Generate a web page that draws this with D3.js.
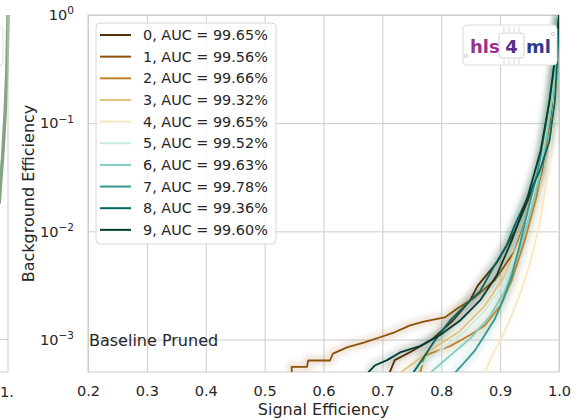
<!DOCTYPE html>
<html>
<head>
<meta charset="utf-8">
<script src="https://cdn.jsdelivr.net/npm/d3@7"></script>
<style>
  body { margin: 0; background: #fff; }
  text { font-family: "DejaVu Sans", sans-serif; fill: #262626; }
</style>
</head>
<body>
<div id="chart"></div>
<script>
// model labels and AUC values shown in the legend
const models = ["0", "1", "2", "3", "4", "5", "6", "7", "8", "9"];
const aucs = [99.65, 99.56, 99.66, 99.32, 99.65, 99.52, 99.63, 99.78, 99.36, 99.60];

// ROC points: [signal efficiency, background efficiency]
const roc0 = [[0.712, 4.9e-4], [0.721, 6.45e-4], [0.75, 7.8e-4], [0.784, 1.0e-3], [0.82, 1.5e-3], [0.849, 2.3e-3], [0.862, 3.15e-3], [0.895, 5.2e-3], [0.925, 0.01], [0.964, 0.032], [0.984, 0.1], [0.995, 0.32], [1, 1]];
const roc1 = [[0.546, 4.9e-4], [0.546, 5.6e-4], [0.572, 5.6e-4], [0.574, 6.4e-4], [0.611, 6.4e-4], [0.616, 7.4e-4], [0.641, 8.5e-4], [0.67, 9.4e-4], [0.696, 1.05e-3], [0.718, 1.15e-3], [0.747, 1.35e-3], [0.772, 1.47e-3], [0.806, 1.6e-3], [0.828, 1.95e-3], [0.857, 2.45e-3], [0.891, 3.55e-3], [0.925, 6.6e-3], [0.95, 0.016], [0.971, 0.036], [0.984, 0.107], [0.995, 0.38], [1, 1]];
const roc2 = [[0.764, 4.9e-4], [0.772, 7.1e-4], [0.815, 8.7e-4], [0.849, 1.1e-3], [0.874, 1.35e-3], [0.9, 2.05e-3], [0.92, 3.55e-3], [0.942, 8.3e-3], [0.962, 0.021], [0.979, 0.069], [0.993, 0.25], [1, 1]];
const roc3 = [[0.73, 4.9e-4], [0.781, 7.9e-4], [0.832, 1.2e-3], [0.874, 2.05e-3], [0.908, 3.9e-3], [0.933, 8.3e-3], [0.955, 0.0195], [0.974, 0.056], [0.988, 0.162], [0.996, 0.48], [1, 1]];
const roc4 = [[0.874, 4.9e-4], [0.886, 7.1e-4], [0.9, 9.8e-4], [0.916, 1.5e-3], [0.933, 2.55e-3], [0.95, 4.9e-3], [0.967, 0.0115], [0.981, 0.036], [0.991, 0.132], [0.998, 0.48], [1, 1]];
const roc5 = [[0.747, 4.9e-4], [0.798, 7.9e-4], [0.84, 1.2e-3], [0.874, 1.85e-3], [0.903, 3.15e-3], [0.928, 6.6e-3], [0.95, 0.0155], [0.971, 0.046], [0.986, 0.148], [0.995, 0.43], [1, 1]];
const roc6 = [[0.781, 4.9e-4], [0.815, 7.1e-4], [0.849, 1.02e-3], [0.883, 1.65e-3], [0.908, 2.8e-3], [0.93, 6.0e-3], [0.95, 0.014], [0.969, 0.036], [0.984, 0.117], [0.995, 0.38], [1, 1]];
const roc7 = [[0.823, 4.9e-4], [0.84, 6.2e-4], [0.857, 7.9e-4], [0.874, 1.1e-3], [0.891, 1.55e-3], [0.905, 2.3e-3], [0.92, 3.9e-3], [0.933, 7.4e-3], [0.947, 0.0155], [0.964, 0.036], [0.979, 0.107], [0.991, 0.31], [1, 1]];
const roc8 = [[0.752, 4.9e-4], [0.772, 7.1e-4], [0.789, 9.8e-4], [0.815, 1.5e-3], [0.849, 2.3e-3], [0.866, 2.8e-3], [0.891, 4.9e-3], [0.911, 7.4e-3], [0.925, 0.0115], [0.945, 0.0195], [0.967, 0.036], [0.984, 0.069], [0.993, 0.162], [0.998, 0.48], [1, 1]];
const roc9 = [[0.675, 4.9e-4], [0.687, 5.75e-4], [0.708, 6.45e-4], [0.73, 7.6e-4], [0.764, 8.7e-4], [0.798, 1.1e-3], [0.832, 1.5e-3], [0.866, 2.3e-3], [0.894, 3.9e-3], [0.92, 8.3e-3], [0.947, 0.021], [0.969, 0.056], [0.984, 0.162], [0.995, 0.48], [1, 1]];
const rocs = [roc0, roc1, roc2, roc3, roc4, roc5, roc6, roc7, roc8, roc9];

// the piece of the neighbouring panel visible on the left edge
const leftPanelCurve = [[1, 1], [0.998, 0.3], [0.995, 0.12], [0.991, 0.05], [0.987, 0.026], [0.985, 0.018]];

const xTicks = [0.2, 0.3, 0.4, 0.5, 0.6, 0.7, 0.8, 0.9, 1.0];
const yTicks = [1e-3, 1e-2, 1e-1, 1];
const yTickExp = ["\u22123", "\u22122", "\u22121", "0"];

const colors = d3.schemeBrBG[10];

const W = 579, H = 420;
const margin = { top: 15, right: 20, bottom: 48, left: 88 },
  width = W - margin.left - margin.right,
  height = H - margin.top - margin.bottom;

const svg = d3.select("#chart")
  .append("svg")
  .attr("width", W)
  .attr("height", H);

// soft blur for the faint bands under each curve
svg.append("defs").append("filter")
  .attr("id", "soft")
  .attr("x", "-20%").attr("y", "-20%").attr("width", "140%").attr("height", "140%")
  .append("feGaussianBlur").attr("stdDeviation", 2.5);

// scales
const x = d3.scaleLinear().domain([0.2, 1.0]).range([0, width]);
const y = d3.scaleLog().domain([Math.pow(10, -3.3), 1]).range([height, 0]);
// left neighbour panel: same scale, its 1.0 lands at x = 8
const xLeft = d3.scaleLinear().domain([0.2, 1.0]).range([8 - width, 8]);

// ---- left neighbour panel (clipped sliver) ----
const left = svg.append("g");
left.append("line")
  .attr("x1", 0).attr("x2", 8)
  .attr("y1", margin.top + y(1e-3)).attr("y2", margin.top + y(1e-3))
  .style("stroke", "#cccccc");
left.append("path")
  .datum(leftPanelCurve)
  .attr("transform", `translate(0, ${margin.top})`)
  .attr("d", d3.line().x(d => xLeft(d[0])).y(d => y(d[1])))
  .style("fill", "none")
  .style("stroke", "#6e9470")
  .style("stroke-width", 3.5)
  .style("opacity", 0.85);
left.append("rect")
  .attr("x", -60).attr("y", 26).attr("width", 63).attr("height", 40)
  .attr("rx", 4)
  .style("fill", "none")
  .style("stroke", "#dddddd");
left.append("path")
  .attr("d", `M0,${margin.top + height}H8V${margin.top}`)
  .style("fill", "none")
  .style("stroke", "#cccccc");
left.append("text")
  .attr("x", 0).attr("y", margin.top + height + 25)
  .style("font-size", "14.5px")
  .text("1.");

// ---- main panel ----
const g = svg.append("g")
  .attr("transform", `translate(${margin.left}, ${margin.top})`);

g.append("clipPath").attr("id", "clip")
  .append("rect").attr("width", width).attr("height", height);

// x axis + vertical grid
const xAxis = g.append("g")
  .attr("transform", `translate(0, ${height})`)
  .call(d3.axisBottom(x).tickValues(xTicks).tickFormat(d3.format(".1f")).tickSize(-height).tickPadding(14));
xAxis.select(".domain").remove();
xAxis.selectAll("line").style("stroke", "#cccccc");
xAxis.selectAll("text").style("font-size", "14.5px").style("fill", "#262626");

// y axis + horizontal grid
const yAxis = g.append("g")
  .call(d3.axisLeft(y).tickValues(yTicks).tickFormat("").tickSize(-width).tickPadding(14));
yAxis.select(".domain").remove();
yAxis.selectAll("line").style("stroke", "#cccccc");
yAxis.selectAll(".tick").each(function (d, i) {
  const t = d3.select(this).append("text")
    .attr("x", -14)
    .attr("dy", "0.32em")
    .attr("text-anchor", "end")
    .style("font-size", "14.5px");
  t.append("tspan").text("10");
  t.append("tspan").attr("dy", "-0.55em").style("font-size", "10.5px").text(yTickExp[i]);
});

// frame
g.append("rect")
  .attr("width", width).attr("height", height)
  .style("fill", "none")
  .style("stroke", "#cccccc");

// "Baseline Pruned" note
g.append("text")
  .attr("x", 1)
  .attr("y", y(1e-3) + 6)
  .style("font-size", "16px")
  .text("Baseline Pruned");

// curves
const line = d3.line()
  .x(d => x(d[0]))
  .y(d => y(d[1]));

const curves = g.append("g").attr("clip-path", "url(#clip)");

// faint uncertainty glow underneath
curves.append("g")
  .attr("filter", "url(#soft)")
  .selectAll(".glow")
  .data(rocs)
  .join("path")
  .attr("class", "glow")
  .attr("d", line)
  .style("fill", "none")
  .style("stroke", (d, i) => colors[i])
  .style("stroke-width", 11)
  .style("stroke-linejoin", "round")
  .style("opacity", 0.13);

curves.selectAll(".roc")
  .data(rocs)
  .join("path")
  .attr("class", "roc")
  .attr("d", line)
  .style("fill", "none")
  .style("stroke", (d, i) => colors[i])
  .style("stroke-width", 1.8)
  .style("stroke-linejoin", "round");

// legend
const legend = svg.append("g");
legend.append("rect")
  .attr("x", 96).attr("y", 23)
  .attr("width", 180).attr("height", 221)
  .attr("rx", 4)
  .style("fill", "#ffffff")
  .style("fill-opacity", 0.85)
  .style("stroke", "#d6d6d6");

const rowH = 21.65;
const items = legend.selectAll(".item")
  .data(models)
  .join("g")
  .attr("class", "item")
  .attr("transform", (d, i) => `translate(0, ${35 + i * rowH})`);
items.append("line")
  .attr("x1", 100).attr("x2", 131)
  .style("stroke", (d, i) => colors[i])
  .style("stroke-width", 2);
items.append("text")
  .attr("x", 143)
  .attr("dy", "0.36em")
  .style("font-size", "14.4px")
  .text((d, i) => `${d}, AUC = ${aucs[i].toFixed(2)}%`);

// hls4ml logo
const logo = svg.append("g");
logo.append("rect")
  .attr("x", 463).attr("y", 25).attr("width", 94).attr("height", 40)
  .attr("rx", 4)
  .style("fill", "#ffffff")
  .style("stroke", "#dcdcdc");
logo.append("circle").attr("cx", 466).attr("cy", 56).attr("r", 1.6)
  .style("fill", "none").style("stroke", "#cfcfcf");
logo.append("circle").attr("cx", 553).attr("cy", 34).attr("r", 1.6)
  .style("fill", "none").style("stroke", "#cfcfcf");
logo.append("rect")
  .attr("x", 499).attr("y", 33).attr("width", 25).attr("height", 25)
  .attr("rx", 3)
  .style("fill", "none")
  .style("stroke", "#d2d2d2");
[504, 509, 514, 519].forEach(px => {
  logo.append("line").attr("x1", px).attr("x2", px).attr("y1", 27).attr("y2", 32)
    .style("stroke", "#d6d6d6");
  logo.append("line").attr("x1", px).attr("x2", px).attr("y1", 59).attr("y2", 64)
    .style("stroke", "#d6d6d6");
});
logo.append("text").attr("x", 470).attr("y", 53)
  .style("font-size", "18px").style("font-weight", "bold").style("fill", "#9c2f8e")
  .text("hls");
logo.append("text").attr("x", 511.5).attr("y", 53).attr("text-anchor", "middle")
  .style("font-size", "18px").style("font-weight", "bold").style("fill", "#5a2d8c")
  .text("4");
logo.append("text").attr("x", 526).attr("y", 53)
  .style("font-size", "18px").style("font-weight", "bold").style("fill", "#2e3a8f")
  .text("ml");

// axis titles
svg.append("text")
  .attr("transform", `translate(28, ${margin.top + height / 2}) rotate(-90)`)
  .attr("text-anchor", "middle")
  .attr("dy", "0.35em")
  .style("font-size", "16px")
  .text("Background Efficiency");
svg.append("text")
  .attr("x", margin.left + width / 2)
  .attr("y", 415)
  .attr("text-anchor", "middle")
  .style("font-size", "16px")
  .text("Signal Efficiency");
</script>
</body>
</html>
